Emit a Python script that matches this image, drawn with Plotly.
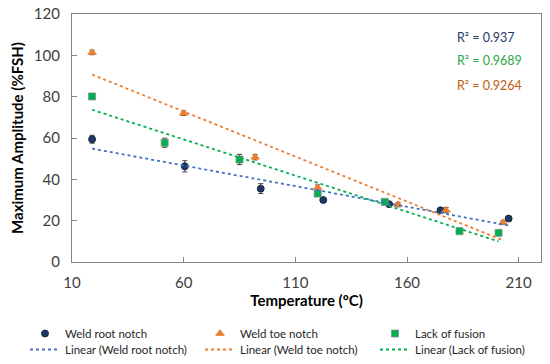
import numpy as np
import plotly.graph_objects as go

# ---- data ----
root_x = [19, 60.5, 94.5, 122.5, 152, 175, 205.5]
root_y = [59.4, 46.3, 35.5, 30.0, 28.0, 25.0, 21.0]
root_err = [1.9, 2.7, 2.4, 0.5, 0.5, 0.7, 0.7]

toe_x = [19, 60, 92, 120, 156, 177.5, 203]
toe_y = [101.4, 72.0, 50.7, 36.0, 27.8, 25.1, 19.1]
toe_err = [1.1, 1.1, 1.3, 1.3, 1.1, 1.3, 1.0]

lof_x = [19, 51.5, 85, 120, 150, 183.5, 201]
lof_y = [80.1, 57.7, 49.6, 33.1, 29.1, 14.9, 14.1]
lof_err = [1.2, 2.2, 2.5, 1.0, 1.0, 0.8, 0.8]

r2_labels = ["R² = 0.937", "R² = 0.9689", "R² = 0.9264"]
x_ticks = [10, 60, 110, 160, 210]
y_ticks = [0, 20, 40, 60, 80, 100, 120]

FONT = "Lato"
c_root, c_root_line = "#1F3864", "#4472C4"
c_toe, c_toe_line = "#ED7D31", "#ED7D31"
c_lof, c_lof_line = "#00B050", "#00B050"

W, H = 550, 364
L, R, T, B = 72, 9, 14, 102
PW, PH = W - L - R, H - T - B

fig = go.Figure()

def add_points(x, y, err, name, color, symbol, size, outline):
    fig.add_trace(go.Scatter(
        x=x, y=y, mode="markers", name=name, legend="legend",
        marker=dict(color=color, symbol=symbol, size=size,
                    line=dict(color=outline, width=0.8)),
        error_y=dict(type="data", array=err, visible=True,
                     color="#404040", thickness=1, width=2.5),
    ))

add_points(root_x, root_y, root_err, "Weld root notch", c_root, "circle", 7, "#0d1a33")
add_points(toe_x, toe_y, toe_err, "Weld toe notch", c_toe, "triangle-up", 7.5, c_toe)
add_points(lof_x, lof_y, lof_err, "Lack of fusion", c_lof, "square", 7, "#8a8a8a")

def add_fit(x, y, name, color):
    m, b = np.polyfit(x, y, 1)
    xs = np.array([min(x), max(x)])
    fig.add_trace(go.Scatter(
        x=xs, y=m * xs + b, mode="lines", name=name, legend="legend2",
        line=dict(color=color, width=1.8, dash="dot"),
    ))

add_fit(root_x, root_y, "Linear (Weld root notch)", c_root_line)
add_fit(toe_x, toe_y, "Linear (Weld toe notch)", c_toe_line)
add_fit(lof_x, lof_y, "Linear (Lack of fusion)", c_lof_line)

r2_colors = ["#1F3864", "#2CA84A", "#C55A11"]
r2_py = [37, 60, 86]
for txt, col, py in zip(r2_labels, r2_colors, r2_py):
    fig.add_annotation(x=(455 - L) / PW, y=1 - (py - T) / PH,
                       xref="paper", yref="paper",
                       text=txt, showarrow=False, xanchor="left", yanchor="middle",
                       font=dict(family=FONT, size=12.5, color=col))

axis_common = dict(showgrid=False, zeroline=False, showline=True, automargin=False,
                   linecolor="#868686", linewidth=1.3, mirror=True,
                   ticks="inside", ticklen=5, tickcolor="#868686",
                   tickfont=dict(family=FONT, size=15, color="#404040"))

fig.update_xaxes(range=[10, 220], tickvals=x_ticks, ticklabelstandoff=7, **axis_common,
                 title=dict(text="<b>Temperature (ºC)</b>", standoff=4,
                            font=dict(family=FONT, size=15, color="#000000")))
fig.update_yaxes(range=[0, 120], tickvals=y_ticks, ticklabelstandoff=8, **axis_common,
                 title=dict(text="<b>Maximum Amplitude (%FSH)</b>", standoff=6,
                            font=dict(family=FONT, size=15, color="#000000")))

legend_common = dict(orientation="h", x=(25 - L) / PW, xanchor="left", yanchor="top",
                     entrywidth=130, entrywidthmode="pixels",
                     font=dict(family=FONT, size=11.5, color="#262626"),
                     tracegroupgap=0, itemwidth=30, bgcolor="rgba(0,0,0,0)")

fig.update_layout(
    width=W, height=H,
    margin=dict(l=L, r=R, t=T, b=B, autoexpand=False),
    paper_bgcolor="white", plot_bgcolor="white",
    font=dict(family=FONT),
    legend=dict(y=-(319 - (T + PH)) / PH, **legend_common),
    legend2=dict(y=-(335 - (T + PH)) / PH, **legend_common),
)

fig.write_html("out.html", config={"displayModeBar": False},
               post_script="document.body.style.margin='0';document.body.style.padding='0';")
